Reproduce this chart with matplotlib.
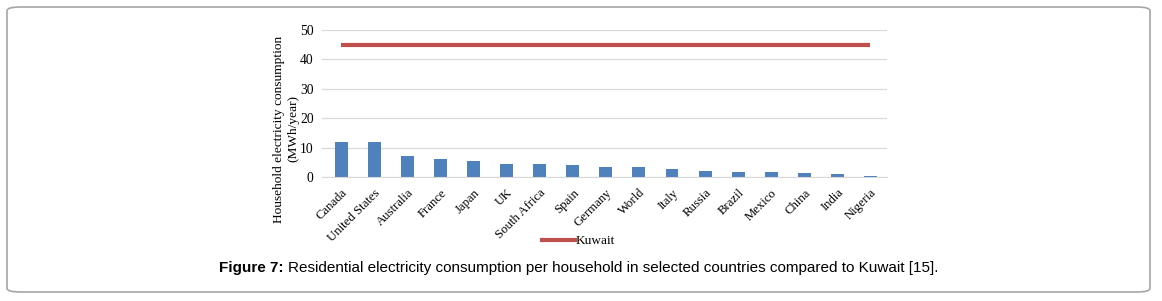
import numpy as np
import matplotlib.pyplot as plt
from matplotlib.patches import FancyBboxPatch
from matplotlib.lines import Line2D

countries = ["Canada", "United States", "Australia", "France", "Japan", "UK",
             "South Africa", "Spain", "Germany", "World", "Italy", "Russia",
             "Brazil", "Mexico", "China", "India", "Nigeria"]
consumption = [12.0, 11.8, 7.2, 6.2, 5.4, 4.5, 4.3, 4.0, 3.4, 3.4, 2.7, 2.2,
               1.8, 1.7, 1.2, 0.9, 0.5]
kuwait = 45.0

W, H = 1162, 301
fig = plt.figure(figsize=(W / 100, H / 100), dpi=100)

# rounded frame around the figure
frame = FancyBboxPatch((7 / W, 9 / H), (1150 - 7) / W, (294 - 9) / H,
                       boxstyle="round,pad=0,rounding_size=0.012",
                       transform=fig.transFigure, fill=False,
                       edgecolor="#a6a6a6", linewidth=1.2)
fig.patches.append(frame)

ax = fig.add_axes([322 / W, (H - 177) / H, (887 - 322) / W, (177 - 30) / H])
x = np.arange(len(countries))
ax.bar(x, consumption, width=0.39, color="#4f81bd")
ax.plot([x[0], x[-1]], [kuwait, kuwait], color="#c0504d", linewidth=3,
        solid_capstyle="butt")

ax.set_xlim(-0.58, len(countries) - 0.5)
ax.set_ylim(0, 50)
ax.set_yticks(range(0, 51, 10))
ax.yaxis.grid(True, color="#d9d9d9", linewidth=0.9)
ax.set_axisbelow(True)
for side in ["top", "right", "left"]:
    ax.spines[side].set_visible(False)
ax.spines["bottom"].set_color("#d9d9d9")
ax.tick_params(axis="both", length=0, labelsize=9.8)
ax.set_xticks(x)
ax.set_xticklabels(countries, rotation=45, ha="right", rotation_mode="anchor",
                   family="Liberation Serif", fontsize=9.2)
ax.tick_params(axis="x", pad=7)
for lab in ax.get_yticklabels():
    lab.set_family("Liberation Serif")
ax.tick_params(axis="y", pad=6)
ax.set_ylabel("Household electricity consumption\n(MWh/year)", family="Liberation Serif",
              fontsize=9.6, linespacing=1.25)
ax.yaxis.set_label_coords(299 / W, (H - 129) / H, transform=fig.transFigure)

# legend below the chart
handle = Line2D([], [], color="#c0504d", linewidth=3)
fig.legend([handle], ["Kuwait"], loc="center", bbox_to_anchor=(578 / W, (H - 241) / H),
           frameon=False, prop={"family": "Liberation Serif", "size": 9.5},
           handlelength=2.5, handletextpad=0.05)

# caption: bold prefix followed by normal text
cy = (H - 268) / H
t1 = fig.text(219 / W, cy, "Figure 7:", fontsize=10.95, fontweight="bold",
              family="Liberation Sans", va="center", ha="left")
fig.canvas.draw()
x_end = t1.get_window_extent().x1
fig.text((x_end + 5) / W, cy,
         "Residential electricity consumption per household in selected countries compared to Kuwait [15].",
         fontsize=10.95, family="Liberation Sans", va="center", ha="left")

fig.savefig("out.png", dpi=100)
